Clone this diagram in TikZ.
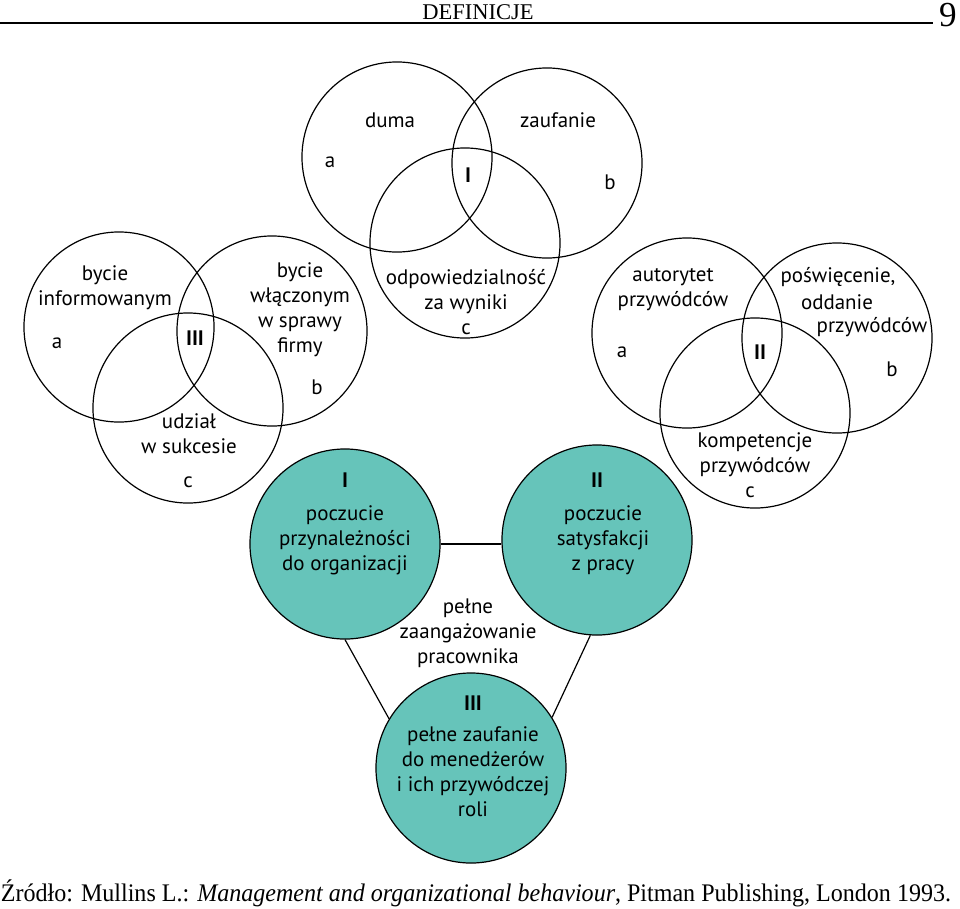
\documentclass[tikz,border=0pt]{standalone}
\usepackage{fontspec}
\setmainfont{Liberation Serif}
\newfontfamily\vennfont{PT Sans}
\usetikzlibrary{positioning}
\definecolor{tealfill}{RGB}{102,196,186}

\begin{document}
\begin{tikzpicture}[x=0.025cm, y=-0.025cm,
    every node/.style={font=\vennfont\fontsize{14.9}{17.8}\selectfont},
    ring/.style ={draw, circle, line width=0.85pt, minimum size=4.75cm,
                  inner sep=0pt},
    tealring/.style={ring, fill=tealfill},
    txt/.style ={align=center, inner sep=0pt},
    roman/.style={txt, font=\vennfont\bfseries\fontsize{14.9}{17.8}\selectfont},
    link/.style ={line width=0.85pt}
  ]
  \useasboundingbox (0,0) rectangle (960,908);

  % naglowek strony
  \node[font=\rmfamily\fontsize{16}{18}\selectfont] (head) at (478,12) {DEFINICJE};
  \node[font=\rmfamily\fontsize{25}{28}\selectfont] (page) at (948,15) {9};
  \coordinate (ruleL) at (0,23);
  \coordinate (ruleR) at (933,23);
  \draw[line width=1pt] (ruleL) -- (ruleR);

  % I -- gorny diagram
  \node[ring] (Ia) at (397,157) {};
  \node[ring] (Ib) at (547,163) {};
  \node[ring] (Ic) at (465,243) {};
  \node[txt] (duma)  at (390,120) {duma};
  \node[txt] (zauf)  at (558,120) {zaufanie};
  \node[txt] (IaL)   at (330,162) {a};
  \node[txt] (IbL)   at (610,182) {b};
  \node[roman] (Inum) at (468,175) {I};
  \node[txt] (odpow) at (466,302) {odpowiedzialność\\za wyniki\\c};

  % III -- lewy diagram
  \node[ring] (IIIa) at (119,327) {};
  \node[ring] (IIIb) at (272,331) {};
  \node[ring] (IIIc) at (188,408) {};
  \node[txt] (inform) at (105,288) {bycie\\informowanym};
  \node[txt] (IIIaL)  at (57,343) {a};
  \node[roman] (IIInum) at (195,338) {III};
  \node[txt] (wlacz)  at (300,310) {bycie\\włączonym\\w sprawy\\firmy};
  \node[txt] (IIIbL)  at (317,387) {b};
  \node[txt] (udzial) at (189,434) {udział\\w sukcesie};
  \node[txt] (IIIcL)  at (188,482) {c};

  % II -- prawy diagram
  \node[ring] (IIa) at (687,333) {};
  \node[ring] (IIb) at (837,338) {};
  \node[ring] (IIc) at (755,413) {};
  \node[txt] (autor)  at (673,290) {autorytet\\przywódców};
  \node[txt] (IIaL)   at (622,352) {a};
  \node[roman] (IInum) at (760,352) {II};
  \node[txt] (poswi)  at (838,277) {poświęcenie,};
  \node[txt] (oddan)  at (837,302) {oddanie};
  \node[txt] (przyw)  at (872,327) {przywódców};
  \node[txt] (IIbL)   at (892,369) {b};
  \node[txt] (kompet) at (755,455) {kompetencje\\przywódców};
  \node[txt] (IIcL)   at (750,492) {c};

  % trojkat zaangazowania
  \node[tealring] (pI)   at (345,544) {};
  \node[tealring] (pII)  at (597,540) {};
  \node[tealring] (pIII) at (471,768) {};
  \node[roman] (pInum)   at (345,480) {I};
  \node[txt]   (pItxt)   at (345,540) {poczucie\\przynależności\\do organizacji};
  \node[roman] (pIInum)  at (597,480) {II};
  \node[txt]   (pIItxt)  at (603,540) {poczucie\\satysfakcji\\z pracy};
  \node[roman] (pIIInum) at (473,703) {III};
  \node[txt]   (pIIItxt) at (473,772) {pełne zaufanie\\do menedżerów\\i ich przywódczej\\roli};
  \node[txt]   (zaang)   at (468,633) {pełne\\zaangażowanie\\pracownika};
  \draw[link] (pI.east) -- (pI.east -| pII.west);
  \draw[link] (pI.south) -- (pIII.149);
  \draw[link] (pII.266) -- (pIII.32);

  % zrodlo
  \node[font=\rmfamily\fontsize{18}{21}\selectfont, inner sep=0pt] (source) at (476,893)
    {\scalebox{0.95}[1]{Źródło: Mullins L.: \textit{Management and organizational behaviour}, Pitman Publishing, London 1993.}};
\end{tikzpicture}
\end{document}
